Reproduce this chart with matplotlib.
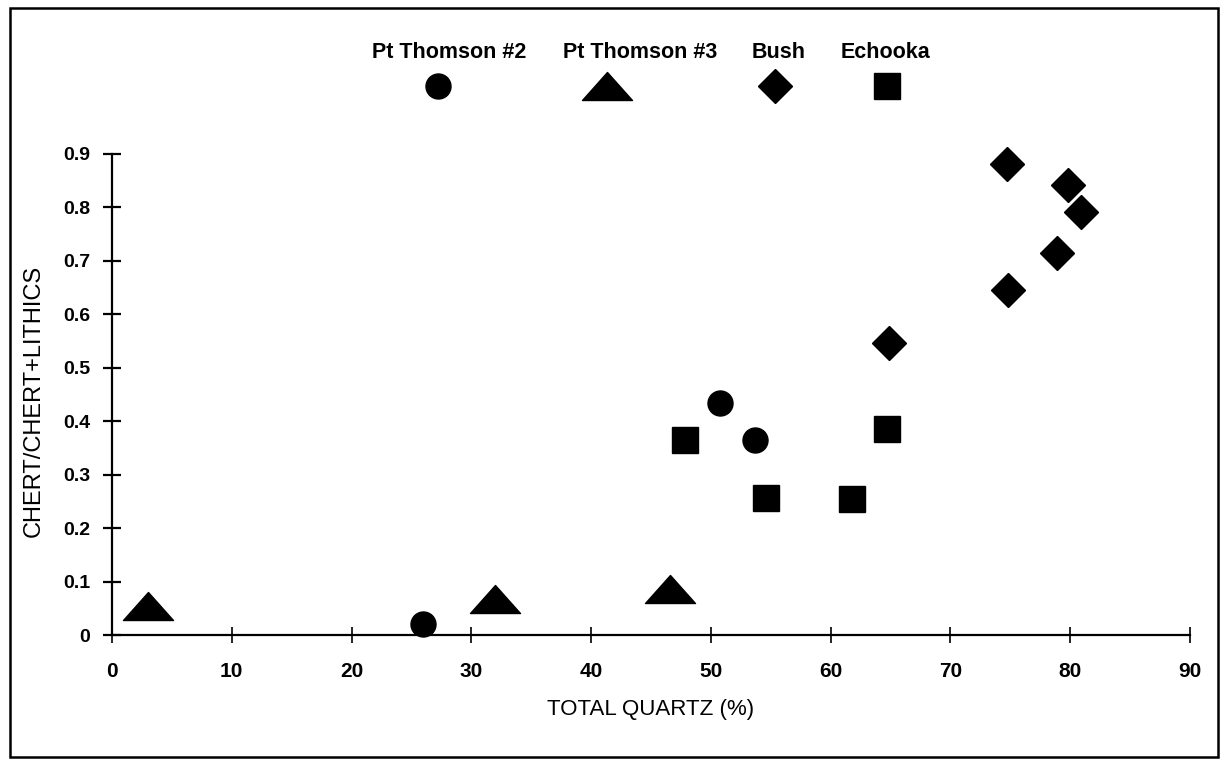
import matplotlib
matplotlib.use("Agg")
import matplotlib.pyplot as plt
from matplotlib.path import Path
from matplotlib.patches import Rectangle

plt.rcParams['font.family'] = ['Liberation Sans', 'DejaVu Sans']

# data: total quartz (%) vs chert/(chert+lithics)
thomson2_x = [26.0, 50.8, 53.7]
thomson2_y = [0.02, 0.435, 0.364]

thomson3_x = [3.0, 32.0, 46.6]
thomson3_y = [0.054, 0.067, 0.087]

bush_x = [74.7, 79.8, 80.9, 78.9, 74.8, 64.9]
bush_y = [0.881, 0.842, 0.791, 0.714, 0.646, 0.547]

echooka_x = [47.8, 54.6, 61.8, 64.7]
echooka_y = [0.365, 0.256, 0.254, 0.385]

series_names = ["Pt Thomson #2", "Pt Thomson #3", "Bush", "Echooka"]

# flat, wide triangle like the original
flat_tri = Path([(-1, -0.56), (1, -0.56), (0, 0.56), (-1, -0.56)],
                [Path.MOVETO, Path.LINETO, Path.LINETO, Path.CLOSEPOLY])

styles = [
    dict(marker="o", ms=18),
    dict(marker=flat_tri, ms=36),
    dict(marker="D", ms=17.5),
    dict(marker="s", ms=18.5),
]

W, H = 1225, 765
fig = plt.figure(figsize=(W / 100, H / 100), dpi=100)

# axes placed to match the scanned chart
ax = fig.add_axes([112 / W, 1 - 635 / H, (1190 - 112) / W, (635 - 154) / H])

all_x = [thomson2_x, thomson3_x, bush_x, echooka_x]
all_y = [thomson2_y, thomson3_y, bush_y, echooka_y]
for xs, ys, st in zip(all_x, all_y, styles):
    ax.plot(xs, ys, linestyle="none", color="black", mec="black",
            clip_on=False, zorder=3, **st)

ax.set_xlim(0, 90)
ax.set_ylim(0, 0.9)
ax.set_xticks(range(0, 91, 10))
ax.set_yticks([i / 10 for i in range(10)])
ax.set_yticklabels(["0"] + [f"0.{i}" for i in range(1, 10)])

for side in ["top", "right"]:
    ax.spines[side].set_visible(False)
for side in ["left", "bottom"]:
    ax.spines[side].set_linewidth(1.6)

ax.tick_params(axis="x", direction="inout", length=11, width=1.2, pad=14,
               labelsize=15)
ax.tick_params(axis="y", direction="inout", length=13, width=1.6, pad=9,
               labelsize=14)
for lbl in ax.get_xticklabels() + ax.get_yticklabels():
    lbl.set_fontweight("bold")

ax.set_xlabel("TOTAL QUARTZ (%)", fontsize=16, labelpad=13)
fig.text(34 / W, 1 - 401 / H, "CHERT/CHERT+LITHICS", rotation=90,
         fontsize=17, ha="center", va="center")

# legend drawn above the plot: labels over markers
lax = fig.add_axes([0, 0, 1, 1], facecolor="none")
lax.set_xlim(0, W)
lax.set_ylim(H, 0)
lax.axis("off")
label_x = [449, 640, 779, 885]
marker_x = [438, 607, 775, 887]
for name, lx, mx, st in zip(series_names, label_x, marker_x, styles):
    lax.text(lx, 52, name, ha="center", va="center", fontsize=15.5,
             fontweight="bold")
    lax.plot([mx], [86], linestyle="none", color="black", **st)

# scanned frame around the figure
fig.patches.append(Rectangle((10 / W, 1 - 757 / H), (1218 - 10) / W,
                             (757 - 8) / H, transform=fig.transFigure,
                             fill=False, edgecolor="black", linewidth=1.8))

fig.savefig("out.png", dpi=100)
